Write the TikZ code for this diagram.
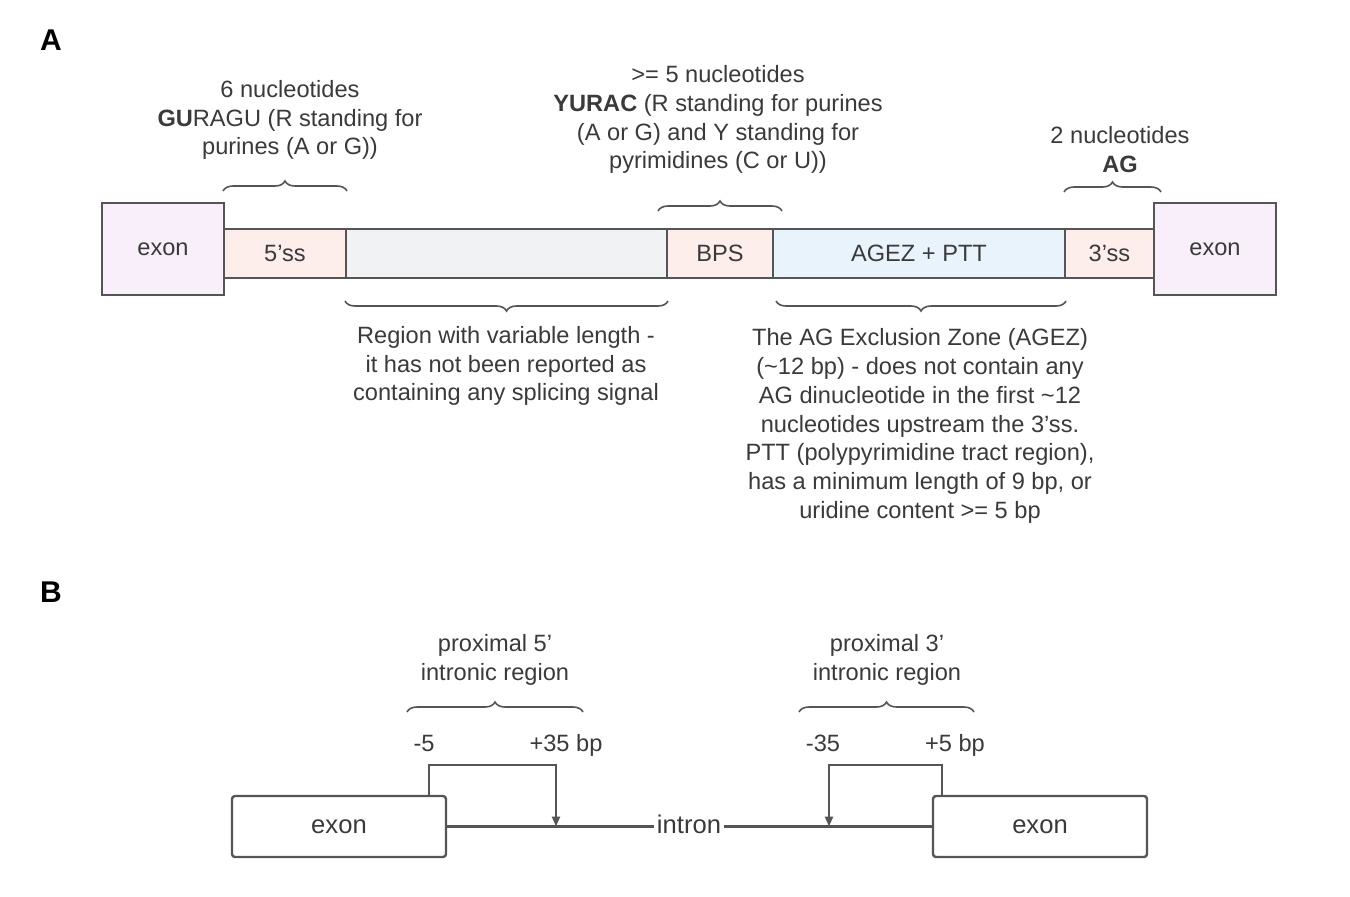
\documentclass[tikz,border=0pt]{standalone}
\usepackage{fontspec}
\setmainfont{Liberation Sans}
\usetikzlibrary{decorations.pathreplacing,arrows.meta}
\definecolor{lne}{HTML}{555555}
\definecolor{txt}{HTML}{3A3A3A}
\definecolor{exonfill}{HTML}{F9EFFB}
\definecolor{ssfill}{HTML}{FDEEEC}
\definecolor{gapfill}{HTML}{F1F2F4}
\definecolor{agezfill}{HTML}{E9F3FC}
\begin{document}
\begin{tikzpicture}[x=0.5pt, y=-0.5pt, color=lne, text=txt, line width=1pt,
	font=\fontsize{11.8}{14.4}\selectfont,
	seg/.style={draw=lne, minimum height=24.5pt, inner sep=0pt},
	exonbox/.style={draw=lne, fill=exonfill, minimum width=61pt, minimum height=46pt, inner sep=0pt},
	exonb/.style={draw=lne, fill=white, rounded corners=1.5pt, minimum width=107pt, minimum height=30.5pt, inner sep=0pt, line width=1.2pt, font=\fontsize{12.8}{15}\selectfont},
	brc/.style={decorate, decoration={brace, amplitude=5pt}, line width=0.8pt},
	lbl/.style={align=center},
	bp/.style={text height=1.6ex, text depth=0.4ex, inner sep=1pt},
	panel/.style={font=\fontsize{15}{18}\selectfont\bfseries, text=black}]
	\useasboundingbox[fill=white] (0,0) rectangle (1350,896);
	
	\node[panel] (pA) at (51,40) {A};
	\node[panel] (pB) at (51,592) {B};
	
	% A: strip
	\node[seg, fill=ssfill, minimum width=61pt] (ss5) at (285,253.5) {5'ss};
	\node[seg, fill=gapfill, minimum width=160.5pt] (gap) at (506.5,253.5) {};
	\node[seg, fill=ssfill, minimum width=53pt] (bps) at (720,253.5) {BPS};
	\node[seg, fill=agezfill, minimum width=146pt] (agez) at (919,253.5) {AGEZ + PTT};
	\node[seg, fill=ssfill, minimum width=44.5pt] (ss3) at (1109.5,253.5) {3'ss};
	\node[exonbox] (exonL) at (163,249) {exon};
	\node[exonbox] (exonR) at (1215,249) {exon};
	
	% A: braces above
	\draw[brc] ([yshift=18.5pt]ss5.north west) -- ([yshift=18.5pt]ss5.north east);
	\draw[brc] ([xshift=-4pt, yshift=8.5pt]bps.north west) -- ([xshift=4pt, yshift=8.5pt]bps.north east);
	\draw[brc] ([yshift=18pt]ss3.north west) -- ([xshift=3pt, yshift=18pt]ss3.north east);
	% A: braces below
	\draw[brc] ([yshift=-11pt]gap.south east) -- ([yshift=-11pt]gap.south west);
	\draw[brc] ([yshift=-11pt]agez.south east) -- ([xshift=2pt, yshift=-11pt]agez.south west);
	
	% A: labels
	\node[lbl] (lss5) at (290,120) {6 nucleotides\\\textbf{GU}RAGU (R standing for\\purines (A or G))};
	\node[lbl] (lbps) at (718,119.5) {>= 5 nucleotides\\\textbf{YURAC} (R standing for purines\\(A or G) and Y standing for\\pyrimidines (C or U))};
	\node[lbl] (lss3) at (1120,149.5) {2 nucleotides\\\textbf{AG}};
	\node[lbl] (lgap) at (506,366) {Region with variable length -\\it has not been reported as\\containing any splicing signal};
	\node[lbl] (lagez) at (920,426) {The AG Exclusion Zone (AGEZ)\\(\textasciitilde12 bp) - does not contain any\\AG dinucleotide in the first \textasciitilde12\\nucleotides upstream the 3'ss.\\PTT (polypyrimidine tract region),\\has a minimum length of 9 bp, or\\uridine content >= 5 bp};
	
	% B: exons and intron
	\node[exonb] (exonB1) at (339,826.5) {exon};
	\node[exonb] (exonB2) at (1040,826.5) {exon};
	\node[inner sep=1pt, font=\fontsize{12.8}{15}\selectfont] (intron) at (689,824) {intron};
	\draw[line width=1.2pt] (exonB1.east) -- (exonB1.east -| intron.west);
	\draw[line width=1.2pt] (exonB2.west -| intron.east) -- (exonB2.west);
	
	% B: proximal regions
	\coordinate (p35) at (556,826.5);
	\coordinate (m35) at (829,826.5);
	\draw[line width=1.2pt, -{Triangle[length=5pt, width=4pt]}] ([xshift=-9pt]exonB1.north east) -- ++(0,-30) -| (p35);
	\draw[line width=1.2pt, -{Triangle[length=5pt, width=4pt]}] ([xshift=5pt]exonB2.north west) -- ++(0,-30) -| (m35);
	\node[bp] (m5) at (424,745) {-5};
	\node[bp] (pl35) at (566,745) {+35 bp};
	\node[bp] (mi35) at (823,745) {-35};
	\node[bp] (pl5) at (955,745) {+5 bp};
	\draw[brc] (407,712) -- (583,712);
	\draw[brc] (799,712) -- (974,712);
	\node[lbl] (lprox5) at (495,659.5) {proximal 5'\\intronic region};
	\node[lbl] (lprox3) at (887,659.5) {proximal 3'\\intronic region};
\end{tikzpicture}
\end{document}
